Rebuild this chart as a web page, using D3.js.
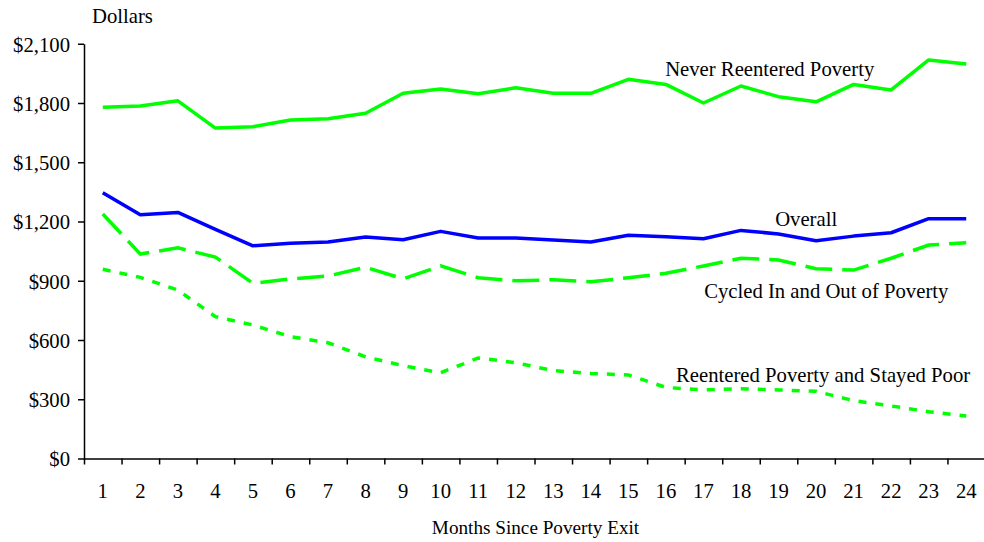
<!DOCTYPE html>
<html>
<head>
<meta charset="utf-8">
<script src="https://cdn.jsdelivr.net/npm/d3@7"></script>
<style>
  body { margin: 0; background: #fff; }
  text { font-family: "Liberation Serif", "Times New Roman", serif; fill: #000; }
</style>
</head>
<body>
<script>
// chart data
var months = ["1","2","3","4","5","6","7","8","9","10","11","12",
              "13","14","15","16","17","18","19","20","21","22","23","24"];
var neverReentered = [1778,1785,1811,1673,1680,1714,1720,1748,1849,1871,1847,1877,
                      1849,1849,1920,1894,1800,1886,1832,1806,1894,1866,2018,1997];
var overall = [1346,1234,1246,1160,1077,1090,1096,1121,1108,1150,1116,1116,
               1106,1096,1130,1123,1113,1155,1137,1103,1126,1143,1214,1214];
var cycled = [1238,1035,1067,1020,887,909,924,968,910,975,915,900,
              905,895,915,938,975,1014,1005,961,954,1014,1081,1092];
var reentered = [958,917,853,718,676,617,586,515,470,434,509,485,
                 445,431,423,360,347,353,347,340,293,266,237,215];
var yTicks = [0,300,600,900,1200,1500,1800,2100];

var width = 984,
    height = 542;

var svg = d3.select("body").append("svg")
    .attr("width", width)
    .attr("height", height)
    .style("display", "block");

var plotLeft = 84, plotRight = 985, plotTop = 43.75, plotBottom = 458.5;
var fontSize = "20.7px";

var x = d3.scaleBand().domain(months).range([plotLeft, plotRight]);
var xEdge = d3.scaleLinear().domain([0, months.length]).range([plotLeft, plotRight]);
var y = d3.scaleLinear().domain([0, 2100]).range([plotBottom, plotTop]);

// y axis
var yAxis = svg.append("g")
    .attr("transform", "translate(" + plotLeft + ",0)")
    .call(d3.axisLeft(y)
        .tickValues(yTicks)
        .tickSize(6)
        .tickSizeOuter(0)
        .tickPadding(8)
        .tickFormat(function(d) { return "$" + d3.format(",")(d); }));
yAxis.selectAll("text").style("font-size", fontSize).attr("dy", "0.36em");

// x axis: ticks between categories
svg.append("g")
    .attr("transform", "translate(0," + plotBottom + ")")
    .call(d3.axisBottom(xEdge)
        .tickValues(d3.range(0, months.length + 1))
        .tickSize(6)
        .tickSizeOuter(0)
        .tickFormat(""));

var xLabels = svg.append("g")
    .attr("transform", "translate(0," + plotBottom + ")")
    .call(d3.axisBottom(x).tickSize(0).tickPadding(25));
xLabels.select(".domain").remove();
xLabels.selectAll("text").style("font-size", fontSize);

svg.selectAll(".domain, .tick line")
    .attr("stroke", "#000")
    .attr("stroke-width", 1.5);

var line = d3.line()
    .x(function(d, i) { return x(months[i]) + x.bandwidth() / 2; })
    .y(function(d) { return y(d); });

svg.append("path")
    .datum(neverReentered)
    .attr("fill", "none")
    .attr("stroke", "#00ff00")
    .attr("stroke-width", 3.5)
    .attr("stroke-linejoin", "round")
    .attr("d", line);

svg.append("path")
    .datum(overall)
    .attr("fill", "none")
    .attr("stroke", "#0000ff")
    .attr("stroke-width", 3.5)
    .attr("stroke-linejoin", "round")
    .attr("d", line);

svg.append("path")
    .datum(cycled)
    .attr("fill", "none")
    .attr("stroke", "#00ff00")
    .attr("stroke-width", 3.5)
    .attr("stroke-dasharray", "27,10")
    .attr("d", line);

svg.append("path")
    .datum(reentered)
    .attr("fill", "none")
    .attr("stroke", "#00ff00")
    .attr("stroke-width", 3.5)
    .attr("stroke-dasharray", "8,9")
    .attr("d", line);

// series labels
function label(txt, m, v) {
    svg.append("text")
        .attr("x", xEdge(m))
        .attr("y", y(v))
        .style("font-size", fontSize)
        .text(txt);
}
label("Never Reentered Poverty", 15.48, 1936);
label("Overall", 18.41, 1179);
label("Cycled In and Out of Poverty", 16.52, 811);
label("Reentered Poverty and Stayed Poor", 15.77, 389);

svg.append("text")
    .attr("x", 92)
    .attr("y", 23)
    .style("font-size", fontSize)
    .text("Dollars");

svg.append("text")
    .attr("x", 535.5)
    .attr("y", 534)
    .attr("text-anchor", "middle")
    .style("font-size", "19.2px")
    .text("Months Since Poverty Exit");
</script>
</body>
</html>
